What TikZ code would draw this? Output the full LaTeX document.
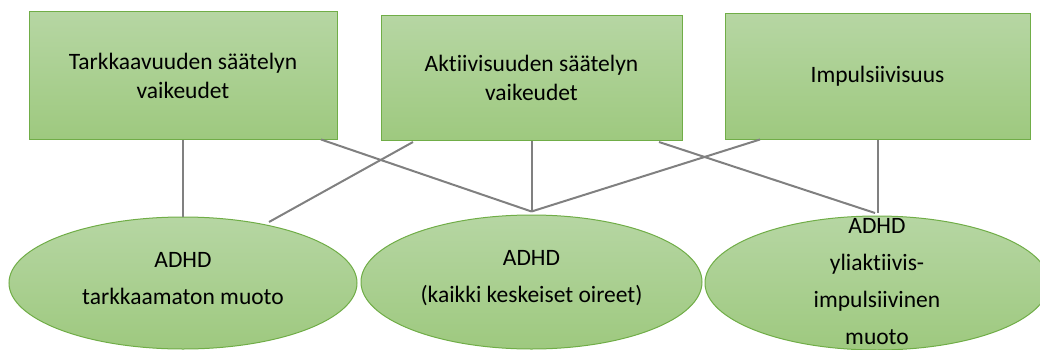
\documentclass[tikz,border=0pt]{standalone}
\usepackage{fontspec}
\setmainfont{Carlito}[Ligatures=NoCommon]
\usetikzlibrary{shapes.geometric,calc}
\definecolor{gtop}{RGB}{182,214,163}
\definecolor{gbot}{RGB}{158,201,127}
\definecolor{gborder}{RGB}{112,173,71}
\definecolor{lgray}{RGB}{128,128,128}
\tikzset{
  boxnode/.style={rectangle, draw=gborder, line width=1pt, top color=gtop, bottom color=gbot,
    inner sep=0pt, align=center, font=\fontsize{23.5}{29}\selectfont},
  ellnode/.style={ellipse, draw=gborder, line width=1pt, top color=gtop, bottom color=gbot,
    inner sep=0pt},
  elltext/.style={inner sep=0pt, align=center, font=\fontsize{23.5}{37}\selectfont},
  conn/.style={draw=lgray, line width=2pt}
}
\begin{document}
\begin{tikzpicture}[x=1pt,y=1pt]
\useasboundingbox (0,0) rectangle (1040,349);
\node[boxnode, minimum width=308pt, minimum height=127pt] (b1) at (183,273.5) {Tarkkaavuuden säätelyn\\vaikeudet};
\node[boxnode, minimum width=301pt, minimum height=124pt] (b2) at (531.5,271) {Aktiivisuuden säätelyn\\vaikeudet};
\node[boxnode, minimum width=305pt, minimum height=125pt] (b3) at (877.5,272.5) {Impulsiivisuus};
\node[ellnode, minimum width=348pt, minimum height=132pt] (e1) at (183,66) {};
\node[ellnode, minimum width=341pt, minimum height=134pt] (e2) at (531.5,67) {};
\node[ellnode, minimum width=344pt, minimum height=134pt] (e3) at (877,66) {};
\node[elltext] (t1) at ($(e1.center)+(0,4)$) {ADHD\\tarkkaamaton muoto};
\node[elltext] (t2) at ($(e2.center)+(0,4)$) {ADHD\\(kaikki keskeiset oireet)};
\node[elltext] (t3) at ($(e3.center)+(0,1)$) {ADHD\\yliaktiivis-\\impulsiivinen\\muoto};
\coordinate (j1) at (269,127);
\coordinate (j2) at ($(e2.north)+(0,3)$);
\coordinate (j3) at (875,136);
\coordinate (s1r) at (321,209.5);
\coordinate (s2l) at (413,207);
\coordinate (s2r) at (659,207);
\coordinate (s3l) at (760,209.5);
\draw[conn] (b1.south) -- (e1.north);
\draw[conn] (s1r) -- (j2);
\draw[conn] (s2l) -- (j1);
\draw[conn] (b2.south) -- (j2);
\draw[conn] (s2r) -- (j3);
\draw[conn] (s3l) -- (j2);
\draw[conn] (b3.south) -- (b3.south |- j3);
\end{tikzpicture}
\end{document}
